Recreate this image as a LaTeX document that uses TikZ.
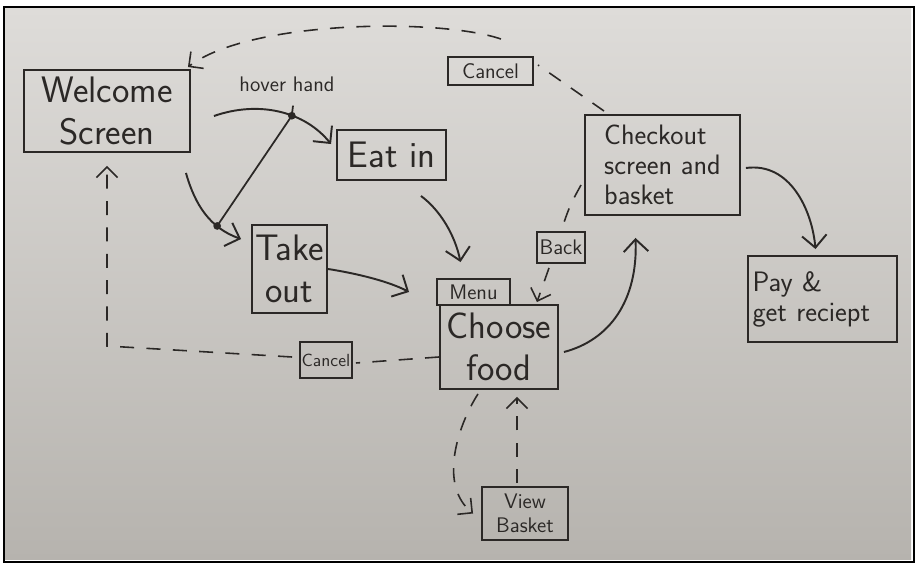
\documentclass[tikz,border=0pt]{standalone}
\usetikzlibrary{arrows.meta,calc}

\definecolor{ink}{HTML}{2B2826}
\definecolor{papertop}{HTML}{DEDCD9}
\definecolor{paperbot}{HTML}{B6B3AE}

% box from pixel corners (x1,y1)--(x2,y2)
\newcommand\sketchbox[7][]{\node[box,#1,minimum width={(#5-#3)*0.02cm},minimum height={(#6-#4)*0.02cm}] (#2) at ({(#3+#5)/2},{(#4+#6)/2}) {#7};}

\begin{document}
\begin{tikzpicture}[x=0.02cm,y=-0.02cm,
    box/.style={draw=ink,line width=1.1pt,inner sep=0pt,align=center,text=ink},
    big/.style={font=\sffamily\fontsize{21}{24}\selectfont},
    mid/.style={font=\sffamily\fontsize{16}{17}\selectfont},
    small/.style={font=\sffamily\fontsize{12}{13.5}\selectfont,text=ink},
    tiny/.style={font=\sffamily\fontsize{10}{11}\selectfont},
    flow/.style={draw=ink,line width=1.1pt,-{Straight Barb[length=7pt,width=14pt]}},
    dashline/.style={draw=ink,line width=0.9pt,dash pattern=on 8pt off 7pt},
    dashflow/.style={dashline,-{Straight Barb[length=6pt,width=12pt]}}]

  % paper
  \fill[white] (0,0) rectangle (920,573);
  \shade[top color=papertop,bottom color=paperbot] (5,8) rectangle (911,560);
  \draw[black,line width=1.2pt] (4,7) rectangle (914,562);

  % screens
  \sketchbox[big]{welcome}{24}{70}{190}{152}{Welcome\\Screen}
  \sketchbox[big]{eatin}{337}{130}{446}{180}{Eat in}
  \sketchbox[big]{takeout}{252}{225}{327}{313}{Take\\out}
  \sketchbox[small]{menu}{437}{279}{510}{305}{Menu}
  \sketchbox[big]{choose}{440}{305}{558}{389}{Choose\\food}
  \sketchbox[mid,align=left]{checkout}{585}{115}{740}{215}{Checkout\\screen and\\basket}
  \sketchbox[mid,align=left,text width=2.8cm]{pay}{748}{256}{897}{342}{Pay \&\\get reciept}
  \sketchbox[small]{viewbasket}{482}{487}{568}{540}{View\\Basket}

  % buttons
  \sketchbox[tiny]{cancelA}{300}{342}{352}{378}{Cancel}
  \sketchbox[small]{cancelB}{448}{57}{533}{85}{Cancel}
  \sketchbox[small]{backbtn}{537}{232}{585}{263}{Back}
  \node[small] (hover) at (287,84) {hover hand};

  % forward
  \draw[flow] ($(welcome.east)+(23,5)$) .. controls (260,100) and (305,112) .. ($(eatin.north west)+(-5,15)$) coordinate[pos=0.6] (dotA);
  \draw[flow] ($(welcome.south east)+(-5,20)$) .. controls (195,205) and (210,228) .. ($(takeout.north west)+(-10,15)$) coordinate[pos=0.7] (dotB);
  \draw[ink,line width=1pt] (dotB) -- (dotA) -- ($(hover.south)+(6,8)$);
  \fill[ink] (dotA) circle[radius=2.2pt];
  \fill[ink] (dotB) circle[radius=2.2pt];
  \draw[flow] ($(eatin.south east)+(-26,15)$) .. controls (440,210) and (455,235) .. ($(menu.north)+(-13,-16)$);
  \draw[flow] (takeout.east) .. controls (360,274) and (390,282) .. ($(menu.west)+(-27,0)$);
  \draw[flow] ($(choose.east)+(5,5)$) .. controls (610,340) and (638,300) .. ($(checkout.south)+(-27,22)$);
  \draw[flow] ($(checkout.east)+(5,3)$) .. controls (790,162) and (812,210) .. ($(pay.north)+(-7,-6)$);

  % back and cancel
  \draw[dashline] ($(checkout.west)+(-3,20)$) .. controls (570,205) .. (backbtn.north);
  \draw[dashflow] ($(backbtn.south)+(-12,4)$) -- ($(choose.north east)+(-22,-2)$);
  \draw[dashline] ($(checkout.north west)+(20,-3)$) -- ($(cancelB.east)+(4,-6)$);
  \draw[dashflow] ($(cancelB.north east)+(-33,-17)$) .. controls (440,18) and (250,20) .. ($(welcome.north east)+(-3,-2)$);
  \coordinate (bend) at (107,346);
  \draw[dashline] ($(choose.west)+(0,10)$) -- ($(cancelA.east)+(3,3)$);
  \draw[dashflow] ($(cancelA.west)+(-7,-3)$) -- (bend) -- ($(welcome.south)+(0,13)$);

  % basket
  \draw[dashflow] ($(choose.south)+(-21,4)$) .. controls (458,425) and (438,485) .. ($(viewbasket.west)+(-8,0)$);
  \draw[dashflow] ($(viewbasket.north)+(-8,-3)$) -- ($(choose.south)+(18,7)$);
\end{tikzpicture}
\end{document}
